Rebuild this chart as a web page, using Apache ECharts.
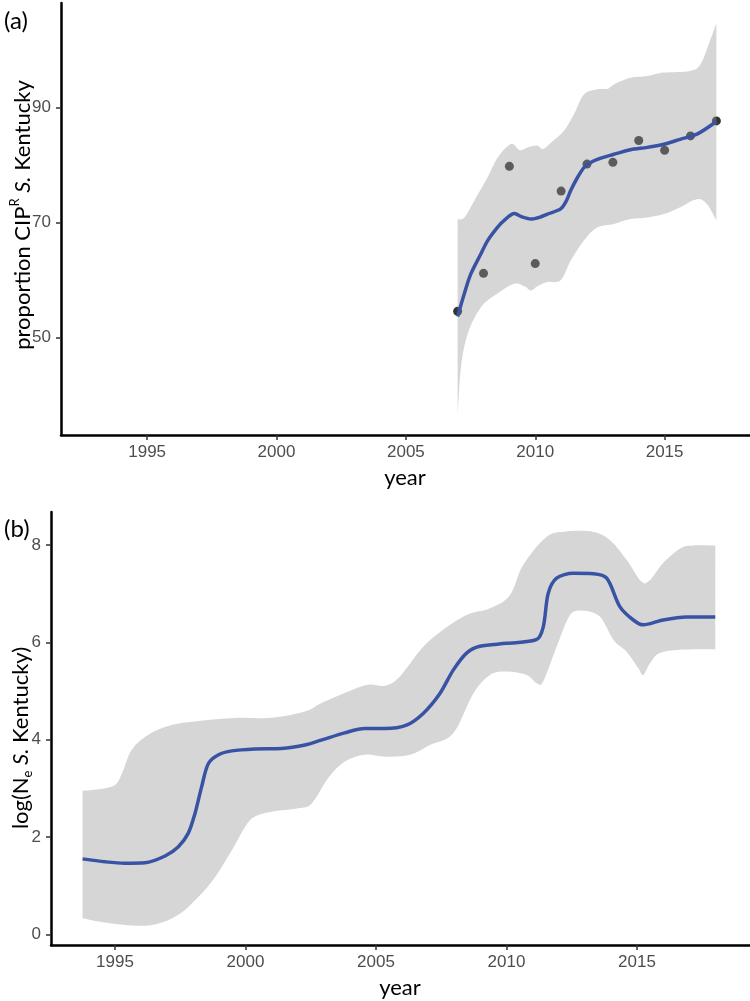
<!DOCTYPE html>
<html>
<head>
<meta charset="utf-8">
<script src="https://cdn.jsdelivr.net/npm/echarts@6/dist/echarts.min.js"></script>
<style>
html,body{margin:0;padding:0;background:#fff;}
#chart{width:750px;height:1001px;}
</style>
</head>
<body>
<div id="chart"></div>
<script>
// ---------- Panel (a): proportion CIP^R S. Kentucky ----------
const topYears = [2007, 2008, 2009, 2010, 2011, 2012, 2013, 2014, 2015, 2016, 2017];
const topProp = [54.6, 61.2, 79.8, 62.9, 75.5, 80.2, 80.5, 84.3, 82.6, 85.1, 87.7];

const topFitYears = [2007.0, 2007.26, 2007.51, 2007.9, 2008.16, 2008.54, 2008.8, 2009.19, 2009.5, 2009.83, 2010.2, 2010.47, 2010.98, 2011.2, 2011.37, 2011.65, 2011.95, 2012.4, 2013.04, 2013.68, 2014.33, 2014.97, 2015.6, 2016.25, 2017.0];
const topFit = [53.7, 57.7, 61.1, 64.6, 66.9, 69.2, 70.4, 71.6, 71.0, 70.65, 71.0, 71.5, 72.4, 73.8, 75.6, 78.0, 79.9, 81.0, 81.9, 82.7, 83.1, 83.65, 84.5, 85.4, 87.6];

const topUpperYears = [2007.0, 2007.26, 2007.64, 2008.16, 2008.54, 2009.06, 2009.4, 2009.7, 2010.08, 2010.3, 2010.6, 2011.11, 2011.5, 2011.88, 2012.4, 2012.8, 2013.04, 2013.68, 2014.33, 2014.97, 2015.99, 2016.38, 2016.7, 2017.0];
const topUpper = [70.6, 70.9, 73.8, 77.9, 81.3, 83.7, 82.6, 83.1, 83.4, 82.8, 83.9, 86.0, 88.9, 92.3, 93.2, 93.3, 94.05, 95.2, 95.5, 96.1, 96.4, 97.5, 101.0, 104.7];

const topLowerYears = [2007.0, 2007.13, 2007.39, 2007.9, 2008.54, 2009.19, 2009.6, 2009.83, 2010.1, 2010.47, 2010.98, 2011.37, 2011.88, 2012.4, 2013.04, 2013.68, 2014.33, 2014.97, 2015.6, 2016.25, 2016.64, 2017.0];
const topLower = [36.3, 44.9, 50.7, 55.3, 57.7, 59.4, 58.9, 58.2, 59.0, 59.7, 60.0, 63.4, 66.9, 69.2, 69.8, 70.65, 70.9, 71.5, 72.7, 74.1, 73.2, 70.4];

const topYTicks = [50, 70, 90];
const xTicks = [1995, 2000, 2005, 2010, 2015];

// ---------- Panel (b): log(Ne S. Kentucky) ----------
const botFitYears = [1993.76, 1994.62, 1995.38, 1996.15, 1996.92, 1997.43, 1997.81, 1998.07, 1998.32, 1998.58, 1998.97, 1999.48, 2000.36, 2001.38, 2002.28, 2002.9, 2003.8, 2004.57, 2005.34, 2006.17, 2006.81, 2007.45, 2007.96, 2008.47, 2008.98, 2010.0, 2011.16, 2011.41, 2011.6, 2011.92, 2012.56, 2013.33, 2013.84, 2014.35, 2014.86, 2015.24, 2016.0, 2016.9, 2018.0];
const botFit = [1.55, 1.49, 1.46, 1.47, 1.61, 1.80, 2.08, 2.49, 3.03, 3.51, 3.69, 3.77, 3.81, 3.82, 3.89, 3.99, 4.14, 4.23, 4.23, 4.30, 4.54, 4.95, 5.43, 5.78, 5.92, 5.98, 6.06, 6.32, 7.01, 7.32, 7.42, 7.41, 7.32, 6.73, 6.46, 6.36, 6.46, 6.52, 6.52];

const botUpperYears = [1993.76, 1994.37, 1995.0, 1995.27, 1995.64, 1996.28, 1997.17, 1998.45, 1999.73, 2001.0, 2002.28, 2002.9, 2003.94, 2004.7, 2005.34, 2005.92, 2006.94, 2008.35, 2009.37, 2010.13, 2010.64, 2011.54, 2012.3, 2013.33, 2013.97, 2014.6, 2015.17, 2015.5, 2016.0, 2016.66, 2017.17, 2018.0];
const botUpper = [2.95, 2.98, 3.07, 3.31, 3.79, 4.10, 4.30, 4.40, 4.45, 4.45, 4.58, 4.75, 4.99, 5.13, 5.11, 5.30, 5.98, 6.53, 6.70, 6.97, 7.59, 8.17, 8.28, 8.27, 8.10, 7.70, 7.25, 7.28, 7.63, 7.93, 7.99, 7.99];

const botLowerYears = [1993.76, 1994.62, 1995.64, 1996.54, 1997.43, 1998.2, 1998.84, 1999.48, 1999.99, 2000.36, 2001.0, 2002.02, 2002.54, 2003.17, 2003.81, 2004.57, 2005.34, 2006.3, 2007.07, 2007.96, 2008.73, 2009.37, 2010.0, 2010.77, 2011.16, 2011.41, 2011.92, 2012.43, 2012.94, 2013.58, 2014.1, 2014.6, 2015.05, 2015.24, 2015.5, 2015.87, 2016.66, 2018.0];
const botLower = [0.33, 0.24, 0.18, 0.20, 0.40, 0.77, 1.18, 1.73, 2.21, 2.42, 2.52, 2.59, 2.69, 3.21, 3.55, 3.69, 3.65, 3.69, 3.89, 4.13, 4.95, 5.33, 5.40, 5.33, 5.16, 5.20, 5.91, 6.56, 6.65, 6.53, 6.05, 5.81, 5.47, 5.33, 5.57, 5.78, 5.85, 5.86];

const botYTicks = [0, 2, 4, 6, 8];

// ---------- helpers ----------
function pairs(xs, ys) { return xs.map((x, i) => [x, ys[i]]); }

// Catmull-Rom curve through pixel points, as cubic bezier path commands
function curveCmds(p) {
  let d = '';
  for (let i = 0; i < p.length - 1; i++) {
    const p0 = p[Math.max(i - 1, 0)], p1 = p[i], p2 = p[i + 1], p3 = p[Math.min(i + 2, p.length - 1)];
    const c1x = p1[0] + (p2[0] - p0[0]) / 6, c1y = p1[1] + (p2[1] - p0[1]) / 6;
    const c2x = p2[0] - (p3[0] - p1[0]) / 6, c2y = p2[1] - (p3[1] - p1[1]) / 6;
    d += ' C' + c1x.toFixed(2) + ' ' + c1y.toFixed(2) + ' ' + c2x.toFixed(2) + ' ' + c2y.toFixed(2) + ' ' + p2[0].toFixed(2) + ' ' + p2[1].toFixed(2);
  }
  return d;
}

function ribbonSeries(axisIdx, upX, upY, loX, loY) {
  return {
    type: 'custom',
    xAxisIndex: axisIdx, yAxisIndex: axisIdx,
    z: 3,
    silent: true,
    data: [0],
    renderItem: function (params, api) {
      const up = upX.map((x, i) => api.coord([x, upY[i]]));
      const lo = loX.map((x, i) => api.coord([x, loY[i]])).reverse();
      const d = 'M' + up[0][0].toFixed(2) + ' ' + up[0][1].toFixed(2) + curveCmds(up) +
        ' L' + lo[0][0].toFixed(2) + ' ' + lo[0][1].toFixed(2) + curveCmds(lo) + ' Z';
      return {
        type: 'path',
        shape: { pathData: d },
        style: { fill: 'rgba(153,153,153,0.4)', stroke: null }
      };
    }
  };
}

const tickFont = '"Liberation Sans", Arial, sans-serif';
const titleFont = 'Lato, "Open Sans", sans-serif';

function xAxisCfg(idx, min, max) {
  return {
    type: 'value', gridIndex: idx, min: min, max: max,
    splitLine: { show: false },
    axisLine: { show: true, onZero: false, lineStyle: { color: '#000', width: 2.5 } },
    axisTick: { show: true, length: 5, customValues: xTicks, lineStyle: { color: '#333', width: 1.5 } },
    axisLabel: { customValues: xTicks, formatter: v => String(v), color: '#4d4d4d', fontSize: 17, fontFamily: tickFont, margin: 9 }
  };
}
function yAxisCfg(idx, min, max, ticks) {
  return {
    type: 'value', gridIndex: idx, min: min, max: max,
    splitLine: { show: false },
    axisLine: { show: true, onZero: false, lineStyle: { color: '#000', width: 2.5 } },
    axisTick: { show: true, length: 5, customValues: ticks, lineStyle: { color: '#333', width: 1.5 } },
    axisLabel: { customValues: ticks, formatter: v => String(v), color: '#4d4d4d', fontSize: 17, fontFamily: tickFont, margin: 10 }
  };
}

const chart = echarts.init(document.getElementById('chart'), null, { renderer: 'canvas' });

const option = {
  backgroundColor: '#ffffff',
  animation: false,
  grid: [
    { left: 61, top: 3, width: 689, height: 432 },
    { left: 51, top: 512, width: 699, height: 433 }
  ],
  xAxis: [xAxisCfg(0, 1991.67, 2018.3), xAxisCfg(1, 1992.55, 2019.33)],
  yAxis: [yAxisCfg(0, 33.1, 108.2, topYTicks), yAxisCfg(1, -0.22, 8.68, botYTicks)],
  series: [
    {
      type: 'scatter', xAxisIndex: 0, yAxisIndex: 0, z: 2,
      symbol: 'circle', symbolSize: 9,
      itemStyle: { color: '#000' },
      data: pairs(topYears, topProp)
    },
    ribbonSeries(0, topUpperYears, topUpper, topLowerYears, topLower),
    {
      type: 'line', xAxisIndex: 0, yAxisIndex: 0, z: 4,
      showSymbol: false, smooth: 0.3,
      lineStyle: { color: '#3953a4', width: 3.5 },
      data: pairs(topFitYears, topFit)
    },
    ribbonSeries(1, botUpperYears, botUpper, botLowerYears, botLower),
    {
      type: 'line', xAxisIndex: 1, yAxisIndex: 1, z: 4,
      showSymbol: false, smooth: 0.3,
      lineStyle: { color: '#3953a4', width: 3.5 },
      data: pairs(botFitYears, botFit)
    }
  ],
  graphic: [
    { type: 'text', left: 4, top: 9, style: { text: '(a)', font: '24px ' + titleFont, fill: '#000' } },
    { type: 'text', left: 4, top: 517, style: { text: '(b)', font: '24px ' + titleFont, fill: '#000' } },
    { type: 'text', x: 405, y: 478, style: { text: 'year', font: '22px ' + titleFont, fill: '#000', align: 'center', verticalAlign: 'middle' } },
    { type: 'text', x: 400, y: 988, style: { text: 'year', font: '22px ' + titleFont, fill: '#000', align: 'center', verticalAlign: 'middle' } },
    {
      type: 'text', x: 21, y: 215, rotation: Math.PI / 2,
      style: {
        text: '{n|proportion CIP}{sup|R}{n| }{i|S.}{n| Kentucky}',
        align: 'center', verticalAlign: 'middle', fill: '#000',
        rich: {
          n: { fontFamily: titleFont, fontSize: 22, fill: '#000', lineHeight: 26, verticalAlign: 'bottom' },
          i: { fontFamily: titleFont, fontSize: 22, fontStyle: 'italic', fill: '#000', lineHeight: 26, verticalAlign: 'bottom' },
          sup: { fontFamily: titleFont, fontSize: 13, fill: '#000', lineHeight: 26, verticalAlign: 'top' }
        }
      }
    },
    {
      type: 'text', x: 21, y: 738, rotation: Math.PI / 2,
      style: {
        text: '{n|log(N}{sub|e}{n| }{i|S.}{n| Kentucky)}',
        align: 'center', verticalAlign: 'middle', fill: '#000',
        rich: {
          n: { fontFamily: titleFont, fontSize: 22, fill: '#000', lineHeight: 26, verticalAlign: 'middle' },
          i: { fontFamily: titleFont, fontSize: 22, fontStyle: 'italic', fill: '#000', lineHeight: 26, verticalAlign: 'middle' },
          sub: { fontFamily: titleFont, fontSize: 13, fill: '#000', lineHeight: 26, verticalAlign: 'bottom' }
        }
      }
    }
  ]
};
chart.setOption(option);
</script>
</body>
</html>
